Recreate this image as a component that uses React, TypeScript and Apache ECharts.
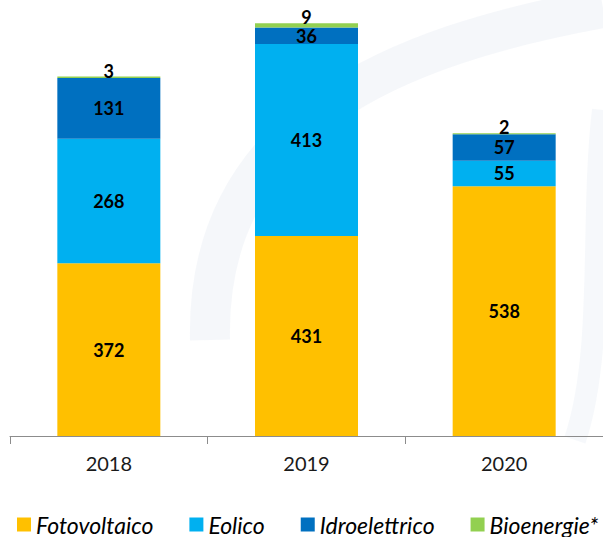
import React, { useEffect, useRef } from "react";
import * as echarts from "echarts";

const categories = ["2018", "2019", "2020"];
const fotovoltaico = [372, 431, 538];
const eolico = [268, 413, 55];
const idroelettrico = [131, 36, 57];
const bioenergie = [3, 9, 2];
const seriesNames = ["Fotovoltaico", "Eolico", "Idroelettrico", "Bioenergie*"];
const colors = ["#FFC000", "#00B0F0", "#0070C0", "#92D050"];

const FONT = "Lato, 'Open Sans', sans-serif";

export default function App() {
  const ref = useRef<HTMLDivElement>(null);
  useEffect(() => {
    if (!ref.current) return;
    const chart = echarts.init(ref.current, undefined, { renderer: "svg" });
    const values = [fotovoltaico, eolico, idroelettrico, bioenergie];
    const series = values.map((data, i) => ({
      name: seriesNames[i],
      type: "bar",
      stack: "total",
      barWidth: 103,
      data,
      itemStyle: { color: colors[i] },
      label: {
        show: true,
        position: i === 3 ? "top" : "inside",
        distance: i === 3 ? -3 : 5,
        color: "#000",
        fontWeight: "bold",
        fontSize: 18,
        fontFamily: FONT,
      },
      z: 2,
    }));
    chart.setOption({
      animation: false,
      backgroundColor: "#ffffff",
      textStyle: { fontFamily: FONT },
      graphic: [
        {
          type: "bezierCurve",
          z: -10,
          silent: true,
          shape: { x1: 210, y1: 340, x2: 603, y2: 8, cpx1: 205, cpy1: 120, cpx2: 400, cpy2: 45 },
          style: { stroke: "rgba(222,230,240,0.3)", lineWidth: 40, fill: null },
        },
        {
          type: "bezierCurve",
          z: -10,
          silent: true,
          shape: { x1: 603, y1: 110, x2: 575, y2: 440, cpx1: 590, cpy1: 220, cpx2: 605, cpy2: 350 },
          style: { stroke: "rgba(222,230,240,0.28)", lineWidth: 22, fill: null },
        },
      ],
      grid: { left: 10, right: -1, top: 0, bottom: 101, containLabel: false },
      xAxis: {
        type: "category",
        data: categories,
        axisLine: { show: true, lineStyle: { color: "#8c8c8c", width: 1 } },
        axisTick: { show: true, length: 8, lineStyle: { color: "#8c8c8c" } },
        axisLabel: { fontSize: 20, color: "#1a1a1a", margin: 17, fontFamily: FONT },
      },
      yAxis: {
        type: "value",
        min: 0,
        max: 939,
        show: false,
        splitLine: { show: false },
      },
      legend: {
        data: seriesNames,
        left: 17,
        top: 513,
        padding: 0,
        icon: "rect",
        itemWidth: 14,
        itemHeight: 14,
        itemGap: 36,
        textStyle: { fontSize: 23, fontStyle: "italic", color: "#000", fontFamily: FONT },
      },
      series,
    });
    return () => chart.dispose();
  }, []);
  return (
    <div
      ref={ref}
      style={{ position: "fixed", left: 0, top: 0, width: 603, height: 537 }}
    />
  );
}
